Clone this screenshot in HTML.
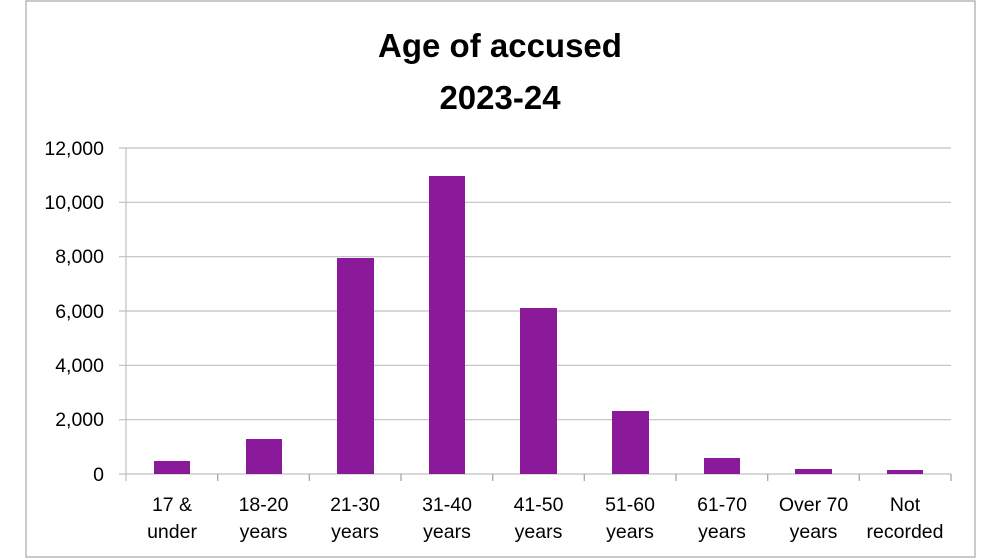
<!DOCTYPE html>
<html><head><meta charset="utf-8"><style>
body{margin:0;background:#fff;}
svg{display:block;font-family:"Liberation Sans",sans-serif;}
</style></head><body>
<svg width="1000" height="560" viewBox="0 0 1000 560">
<rect x="26" y="1" width="949" height="556" fill="#fff" stroke="#a6a6a6" stroke-width="1.2"/>
<text x="500" y="57" text-anchor="middle" font-size="33" font-weight="bold" fill="#000">Age of accused</text>
<text x="500" y="109" text-anchor="middle" font-size="33" font-weight="bold" fill="#000">2023-24</text>
<g stroke="#c0c0c0" stroke-width="1.2">
<line x1="119" y1="148" x2="951" y2="148"/>
<line x1="119" y1="202.3" x2="951" y2="202.3"/>
<line x1="119" y1="256.7" x2="951" y2="256.7"/>
<line x1="119" y1="311" x2="951" y2="311"/>
<line x1="119" y1="365.3" x2="951" y2="365.3"/>
<line x1="119" y1="419.7" x2="951" y2="419.7"/>
<line x1="126" y1="148" x2="126" y2="481"/>
<line x1="119" y1="474" x2="951" y2="474"/>
</g>
<g stroke="#a0a0a0" stroke-width="1.2">
<line x1="217.7" y1="474" x2="217.7" y2="481"/><line x1="309.3" y1="474" x2="309.3" y2="481"/>
<line x1="401" y1="474" x2="401" y2="481"/><line x1="492.7" y1="474" x2="492.7" y2="481"/>
<line x1="584.3" y1="474" x2="584.3" y2="481"/><line x1="676" y1="474" x2="676" y2="481"/>
<line x1="767.7" y1="474" x2="767.7" y2="481"/><line x1="859.3" y1="474" x2="859.3" y2="481"/>
<line x1="951" y1="474" x2="951" y2="481"/>
</g>
<g font-size="19.5" fill="#000" text-anchor="end">
<text x="104" y="155">12,000</text><text x="104" y="209">10,000</text>
<text x="104" y="263">8,000</text><text x="104" y="318">6,000</text>
<text x="104" y="372">4,000</text><text x="104" y="426">2,000</text>
<text x="104" y="481">0</text>
</g>
<g fill="#8b1a9b">
<rect x="154" y="461" width="36" height="13"/>
<rect x="246" y="439" width="36" height="35"/>
<rect x="337" y="258" width="37" height="216"/>
<rect x="429" y="176" width="36" height="298"/>
<rect x="520" y="308" width="37" height="166"/>
<rect x="612" y="411" width="37" height="63"/>
<rect x="704" y="458" width="36" height="16"/>
<rect x="795" y="469" width="37" height="5"/>
<rect x="887" y="470" width="36" height="4"/>
</g>
<g font-size="19.5" fill="#000" text-anchor="middle">
<text x="172" y="511">17 &amp;</text><text x="172" y="538">under</text>
<text x="263.5" y="511">18-20</text><text x="263.5" y="538">years</text>
<text x="355" y="511">21-30</text><text x="355" y="538">years</text>
<text x="447" y="511">31-40</text><text x="447" y="538">years</text>
<text x="538.5" y="511">41-50</text><text x="538.5" y="538">years</text>
<text x="630" y="511">51-60</text><text x="630" y="538">years</text>
<text x="722" y="511">61-70</text><text x="722" y="538">years</text>
<text x="813.5" y="511">Over 70</text><text x="813.5" y="538">years</text>
<text x="905" y="511">Not</text><text x="905" y="538">recorded</text>
</g>
</svg>
</body></html>
